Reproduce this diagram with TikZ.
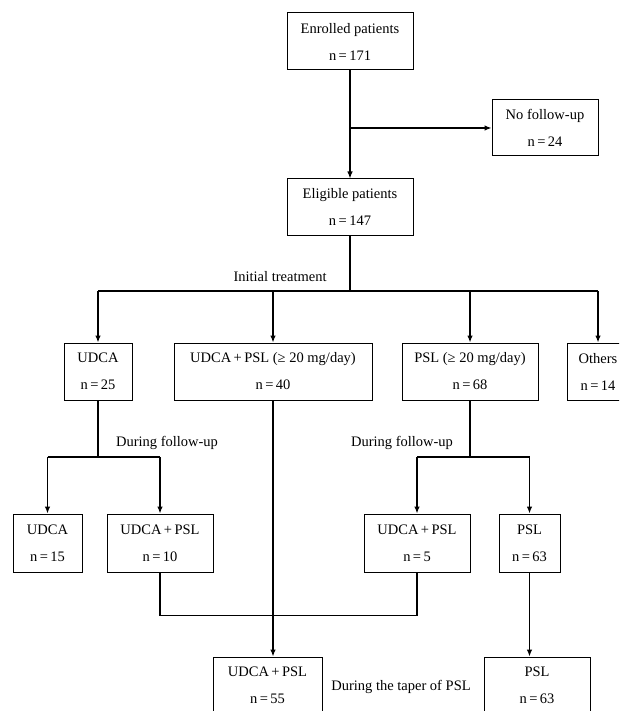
\documentclass[tikz,border=0pt]{standalone}
\usepackage{fontspec}
\setmainfont{Liberation Serif}
\usetikzlibrary{arrows.meta}

\begin{document}
\begin{tikzpicture}[x=1pt,y=-1pt,
    box/.style={draw, line width=1pt, align=center, inner sep=0pt,
        minimum height=57pt, font=\fontsize{14.5}{27}\selectfont},
    flow/.style={line width=1.2pt},
    arr/.style={flow, -{Latex[length=7pt,width=5.5pt]}},
    note/.style={font=\fontsize{14.5}{17}\selectfont}]
    \clip (0,0) rectangle (619,711);

    %patients
        \node[box, minimum width=126pt] (enrolled) at (350,41.5) {Enrolled patients\\n\,=\,171};
        \node[box, minimum width=106pt, minimum height=56pt] (nofollow) at (545,128) {No follow-up\\n\,=\,24};
        \node[box, minimum width=126pt, minimum height=56pt] (eligible) at (350,207) {Eligible patients\\n\,=\,147};

    %initial treatment
        \node[box, minimum width=68pt] (udca) at (98,371.5) {UDCA\\n\,=\,25};
        \node[box, minimum width=198pt] (combo) at (273,371.5) {UDCA\,+\,PSL (≥ 20 mg/day)\\n\,=\,40};
        \node[box, minimum width=136pt] (psl) at (470,371.5) {PSL (≥ 20 mg/day)\\n\,=\,68};
        \node[box, minimum width=62pt] (others) at (598,371.5) {Others\\n\,=\,14};

    %during follow-up
        \node[box, minimum width=69pt, minimum height=58pt] (udcaB) at (47.5,543) {UDCA\\n\,=\,15};
        \node[box, minimum width=106pt, minimum height=58pt] (comboB) at (160,543) {UDCA\,+\,PSL\\n\,=\,10};
        \node[box, minimum width=106pt, minimum height=58pt] (comboC) at (417,543) {UDCA\,+\,PSL\\n\,=\,5};
        \node[box, minimum width=61pt, minimum height=58pt] (pslB) at (529.5,543) {PSL\\n\,=\,63};

    %taper
        \node[box, minimum width=109pt] (comboD) at (267.5,685.5) {UDCA\,+\,PSL\\n\,=\,55};
        \node[box, minimum width=106pt] (pslD) at (537,685.5) {PSL\\n\,=\,63};

    %texts
        \node[note] (initial) at (280,277) {Initial treatment};
        \node[note] (followL) at (167,443) {During follow-up};
        \node[note] (followR) at (402,443) {During follow-up};
        \node[note] (taper) at (401,687) {During the taper of PSL};

    %branch points
        \coordinate (fork) at (350,291);
        \coordinate (lfork) at (98,457);
        \coordinate (rfork) at (470,457);

    %connectors
        \draw[arr] (enrolled) -- (eligible);
        \draw[arr] (enrolled |- nofollow) -- (nofollow);
        \draw[flow] (eligible) -- (fork);
        \draw[flow] (udca |- fork) -- (others |- fork);
        \draw[arr] (udca |- fork) -- (udca);
        \draw[arr] (combo |- fork) -- (combo);
        \draw[arr] (psl |- fork) -- (psl);
        \draw[arr] (others |- fork) -- (others);

        \draw[flow] (udca) -- (lfork);
        \draw[flow] (udcaB |- lfork) -- (comboB |- lfork);
        \draw[arr] (udcaB |- lfork) -- (udcaB);
        \draw[arr] (comboB |- lfork) -- (comboB);

        \draw[flow] (psl) -- (rfork);
        \draw[flow] (comboC |- rfork) -- (pslB |- rfork);
        \draw[arr] (comboC |- rfork) -- (comboC);
        \draw[arr] (pslB |- rfork) -- (pslB);

        \draw[flow] (comboB.south) -- ([yshift=-43pt]comboB.south) -| (comboC.south);
        \draw[arr] (combo.south) -- (combo.south |- comboD.north);
        \draw[arr] (pslB.south) -- (pslB.south |- pslD.north);
\end{tikzpicture}
\end{document}
